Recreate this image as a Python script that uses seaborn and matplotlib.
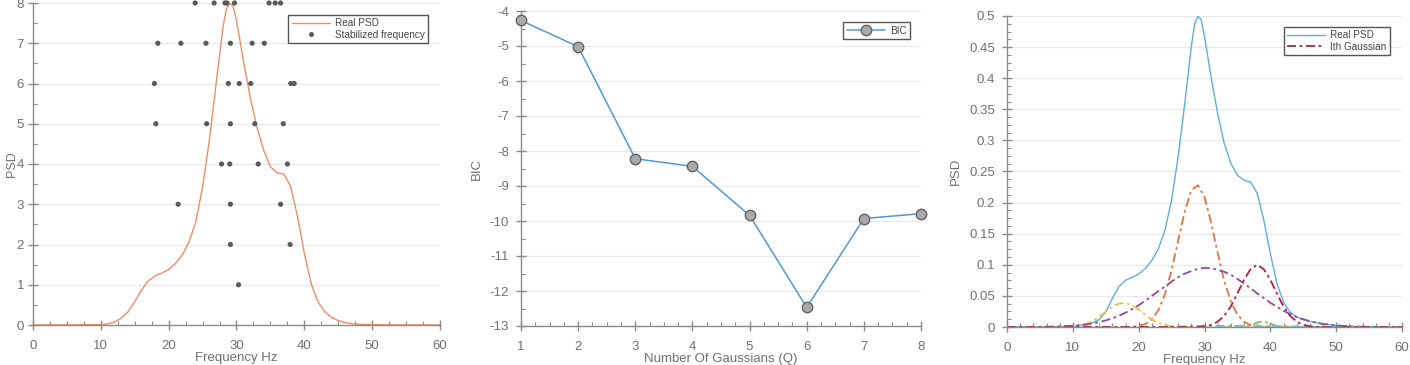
import numpy as np
import pandas as pd
import matplotlib
matplotlib.use("Agg")
import matplotlib.pyplot as plt
import seaborn as sns
from matplotlib.ticker import MultipleLocator, FuncFormatter
from matplotlib.lines import Line2D

# ---------------- Panel 1: stabilization diagram ----------------
psd1_freq = [0, 5, 10, 11, 12, 13, 14, 15, 16, 17, 18, 19, 20, 21, 22, 23, 24, 25, 26, 27, 28,
             28.5, 29, 29.5, 30, 31, 32, 33, 34, 35, 36, 37, 38, 39, 40, 41, 42, 43, 44, 45,
             46, 47, 48, 50, 52, 55, 60]
psd1_vals = [0, 0, 0.01, 0.03, 0.07, 0.17, 0.33, 0.58, 0.87, 1.10, 1.22, 1.29, 1.38, 1.53, 1.74,
             2.07, 2.56, 3.43, 4.59, 6.0, 7.4, 7.85, 8.0, 7.92, 7.57, 6.58, 5.67, 4.92, 4.34,
             3.93, 3.78, 3.75, 3.43, 2.69, 1.78, 1.03, 0.58, 0.33, 0.19, 0.11, 0.06, 0.035,
             0.02, 0.01, 0.0, 0.0, 0.0]

stab_freq = [30.3,
             29.1, 37.9,
             21.4, 29.1, 36.5,
             27.8, 29.0, 33.2, 37.5,
             18.1, 25.6, 29.1, 32.7, 36.9,
             17.9, 28.8, 30.4, 32.1, 38.0, 38.5,
             18.4, 21.8, 25.5, 29.1, 32.3, 34.1,
             23.9, 26.7, 28.3, 28.6, 29.7, 34.8, 35.7, 36.5]
stab_order = [1,
              2, 2,
              3, 3, 3,
              4, 4, 4, 4,
              5, 5, 5, 5, 5,
              6, 6, 6, 6, 6, 6,
              7, 7, 7, 7, 7, 7,
              8, 8, 8, 8, 8, 8, 8, 8]

# ---------------- Panel 2: BIC ----------------
bic_q = [1, 2, 3, 4, 5, 6, 7, 8]
bic_vals = [-4.27, -5.02, -8.22, -8.44, -9.84, -12.47, -9.93, -9.79]

# ---------------- Panel 3: PSD and Gaussian components ----------------
psd3_freq = [0, 5, 10, 12, 13, 14, 15, 16, 17, 18, 19, 20, 21, 22, 23, 24, 25, 26, 27, 28,
             28.5, 29, 29.5, 30, 31, 32, 33, 34, 35, 36, 37, 38, 39, 40, 41, 42, 43, 44, 45,
             46, 47, 48, 50, 52, 55, 60]
psd3_vals = [0, 0, 0.001, 0.004, 0.007, 0.012, 0.024, 0.046, 0.065, 0.075, 0.080, 0.085, 0.094,
             0.107, 0.126, 0.156, 0.204, 0.274, 0.359, 0.451, 0.487, 0.500, 0.494, 0.467,
             0.402, 0.343, 0.295, 0.263, 0.244, 0.236, 0.233, 0.215, 0.172, 0.118, 0.070,
             0.040, 0.024, 0.016, 0.012, 0.009, 0.007, 0.005, 0.003, 0.001, 0, 0]

gauss_freq = [0, 2, 4, 6, 8, 10, 11, 12, 13, 14, 15, 16, 17, 18, 19, 20, 21, 22, 23, 24, 25,
              26, 27, 28, 29, 30, 31, 32, 33, 34, 35, 36, 37, 38, 39, 40, 41, 42, 43, 44, 45,
              46, 47, 48, 49, 50, 52, 55, 60]
g_orange = [0, 0, 0, 0, 0, 0, 0, 0, 0, 0, 0, 0, 0, 0, 0, 0.0016, 0.0047, 0.012, 0.027, 0.053,
            0.091, 0.139, 0.186, 0.220, 0.228, 0.209, 0.168, 0.119, 0.074, 0.041, 0.020,
            0.0084, 0.0031, 0.001, 0, 0, 0, 0, 0, 0, 0, 0, 0, 0, 0, 0, 0, 0, 0]
g_yellow = [0, 0, 0, 0, 0, 0.0009, 0.0022, 0.0049, 0.0095, 0.0163, 0.0245, 0.0324, 0.0378,
            0.0388, 0.035, 0.0278, 0.0195, 0.012, 0.0065, 0.0031, 0.0013, 0.0005, 0.0002, 0,
            0, 0, 0, 0, 0, 0, 0, 0, 0, 0, 0, 0, 0, 0, 0, 0, 0, 0, 0, 0, 0, 0, 0, 0, 0]
g_purple = [0, 0.00005, 0.00014, 0.0004, 0.0009, 0.002, 0.0029, 0.0041, 0.0057, 0.0079, 0.0106,
            0.014, 0.018, 0.023, 0.0287, 0.035, 0.0422, 0.050, 0.0577, 0.065, 0.073, 0.080,
            0.0858, 0.090, 0.0935, 0.095, 0.0946, 0.092, 0.0887, 0.084, 0.0772, 0.070, 0.0623,
            0.054, 0.0467, 0.039, 0.0325, 0.026, 0.0209, 0.016, 0.0125, 0.0094, 0.0069, 0.005,
            0.0036, 0.0025, 0.0011, 0.0003, 0]
g_green = [0, 0, 0, 0, 0, 0, 0, 0, 0, 0, 0, 0, 0, 0, 0, 0, 0, 0, 0, 0, 0, 0, 0, 0, 0, 0, 0, 0,
           0, 0, 0, 0.0005, 0.0025, 0.0075, 0.009, 0.0055, 0.0015, 0.0003, 0, 0, 0, 0, 0, 0, 0,
           0, 0, 0, 0]
g_cyan = [0, 0, 0, 0, 0, 0, 0, 0, 0, 0, 0, 0, 0, 0, 0, 0, 0, 0, 0, 0.0002, 0.0004, 0.0007,
          0.001, 0.0012, 0.0014, 0.0015, 0.0016, 0.0017, 0.0018, 0.0018, 0.0018, 0.0018,
          0.0018, 0.0017, 0.0016, 0.0015, 0.0014, 0.0012, 0.001, 0.0008, 0.0006, 0.0004,
          0.0002, 0.0001, 0, 0, 0, 0, 0]
g_darkred = [0, 0, 0, 0, 0, 0, 0, 0, 0, 0, 0, 0, 0, 0, 0, 0, 0, 0, 0, 0, 0, 0, 0, 0, 0.0004,
             0.0012, 0.0035, 0.0085, 0.018, 0.033, 0.054, 0.076, 0.093, 0.1, 0.093, 0.076,
             0.054, 0.033, 0.018, 0.0085, 0.0035, 0.0012, 0.0003, 0.0001, 0, 0, 0, 0, 0]

# ---------------- Styling ----------------
sns.set_theme(style="white")
plt.rcParams['font.family'] = ['Liberation Sans', 'DejaVu Sans']
plt.rcParams['axes.unicode_minus'] = False

AX_COL = '#8a8a8a'
TXT_COL = '#707070'
LBL_SIZE = 9.5

fig = plt.figure(figsize=(14.1, 3.65), dpi=100, facecolor='white')
ax1 = fig.add_axes([33 / 1410, 1 - 325 / 365, 407 / 1410, 322 / 365])
ax2 = fig.add_axes([521 / 1410, 1 - 326 / 365, 400 / 1410, 315 / 365])
ax3 = fig.add_axes([1007 / 1410, 1 - 327 / 365, 395 / 1410, 311 / 365])


def style(ax, xmaj, xmin, ymaj, ymin, ypad=5):
    for s in ['top', 'right']:
        ax.spines[s].set_visible(False)
    for s in ['left', 'bottom']:
        ax.spines[s].set_color(AX_COL)
        ax.spines[s].set_linewidth(1.0)
    ax.xaxis.set_major_locator(MultipleLocator(xmaj))
    ax.xaxis.set_minor_locator(MultipleLocator(xmin))
    ax.yaxis.set_major_locator(MultipleLocator(ymaj))
    ax.yaxis.set_minor_locator(MultipleLocator(ymin))
    ax.tick_params(which='major', direction='inout', length=7, width=1.0, color=AX_COL,
                   labelsize=9.5, labelcolor=TXT_COL, bottom=True, left=True)
    ax.tick_params(axis='x', which='major', pad=7)
    ax.tick_params(axis='y', which='major', pad=ypad)
    ax.tick_params(which='minor', direction='in', length=3, width=0.8, color=AX_COL,
                   bottom=True, left=True)
    ax.yaxis.grid(True, color='#e9e9e9', lw=0.9)
    ax.xaxis.grid(False)
    ax.set_axisbelow(True)
    ax.set_facecolor('white')


def legend(ax, handles, labels, anchor):
    leg = ax.legend(handles, labels, loc='upper right', bbox_to_anchor=anchor, fontsize=7.2,
                    frameon=True, fancybox=False, edgecolor='#555555', framealpha=1,
                    handlelength=3.8, borderpad=0.35, labelspacing=0.15, handletextpad=0.5,
                    borderaxespad=0)
    leg.get_frame().set_linewidth(1.0)
    for t in leg.get_texts():
        t.set_color('#444444')
    return leg


# ---- Panel 1
df1 = pd.DataFrame({'f': psd1_freq, 'p': psd1_vals})
sns.lineplot(data=df1, x='f', y='p', ax=ax1, color='#ec8e67', lw=1.0, estimator=None,
             sort=False)
df_st = pd.DataFrame({'f': stab_freq, 'o': stab_order})
sns.scatterplot(data=df_st, x='f', y='o', ax=ax1, color='#5a5a5a', s=14, edgecolor='none',
                clip_on=False, zorder=3)
ax1.set_xlim(0, 60)
ax1.set_ylim(0, 8)
style(ax1, 10, 2.5, 1, 0.5, ypad=3)
ax1.set_xlabel('Frequency Hz', fontsize=LBL_SIZE, color=TXT_COL, labelpad=0)
ax1.set_ylabel('PSD', fontsize=9, color=TXT_COL)
ax1.yaxis.set_label_coords(-15 / 407, 0.5)
h1 = [Line2D([], [], color='#ec8e67', lw=1.0),
      Line2D([], [], color='#5a5a5a', marker='o', ms=3.6, lw=0, markeredgecolor='none')]
legend(ax1, h1, ['Real PSD', 'Stabilized frequency'], (0.971, 0.963))

# ---- Panel 2
df2 = pd.DataFrame({'q': bic_q, 'bic': bic_vals})
sns.lineplot(data=df2, x='q', y='bic', ax=ax2, color='#4f9ad4', lw=1.1, marker='o',
             markersize=7.5, markerfacecolor='#a9a9a9', markeredgecolor='#626262',
             markeredgewidth=1.0, clip_on=False, zorder=3)
ax2.set_xlim(1, 8)
ax2.set_ylim(-13, -4)
style(ax2, 1, 0.25, 1, 0.5)
ax2.set_xlabel('Number Of Gaussians (Q)', fontsize=LBL_SIZE, color=TXT_COL, labelpad=0)
ax2.set_ylabel('BIC', fontsize=LBL_SIZE, color=TXT_COL, labelpad=5)
h2 = [Line2D([], [], color='#4f9ad4', lw=1.1, marker='o', ms=7.5, markerfacecolor='#a9a9a9',
             markeredgecolor='#626262', markeredgewidth=1.0)]
legend(ax2, h2, ['BIC'], (0.9725, 0.965))

# ---- Panel 3
df3 = pd.DataFrame({'f': psd3_freq, 'p': psd3_vals})
sns.lineplot(data=df3, x='f', y='p', ax=ax3, color='#62ade0', lw=1.0, estimator=None,
             sort=False)
DASHDOT = (0, (5, 2, 1.5, 2))
gauss_series = [(g_orange, '#e0743e'),
                (g_yellow, '#eec044'),
                (g_purple, '#8c4a9e'),
                (g_green, '#8dbd4e'),
                (g_cyan, '#5cc6ef'),
                (g_darkred, '#ad2244')]
for vals, col in gauss_series:
    dfg = pd.DataFrame({'f': gauss_freq, 'g': vals})
    sns.lineplot(data=dfg, x='f', y='g', ax=ax3, color=col, lw=1.3, linestyle=DASHDOT,
                 estimator=None, sort=False)
ax3.set_xlim(0, 60)
ax3.set_ylim(0, 0.5)
style(ax3, 10, 2, 0.05, 0.0125)
ax3.yaxis.set_major_formatter(FuncFormatter(lambda v, p: '%g' % round(v, 3)))
ax3.set_xlabel('Frequency Hz', fontsize=LBL_SIZE, color=TXT_COL, labelpad=0)
ax3.set_ylabel('PSD', fontsize=LBL_SIZE, color=TXT_COL, labelpad=5)
h3 = [Line2D([], [], color='#62ade0', lw=1.0),
      Line2D([], [], color='#ad2244', lw=1.3, linestyle=DASHDOT)]
legend(ax3, h3, ['Real PSD', 'Ith Gaussian'], (0.970, 0.965))

fig.savefig('out.png', dpi=100, facecolor='white')
